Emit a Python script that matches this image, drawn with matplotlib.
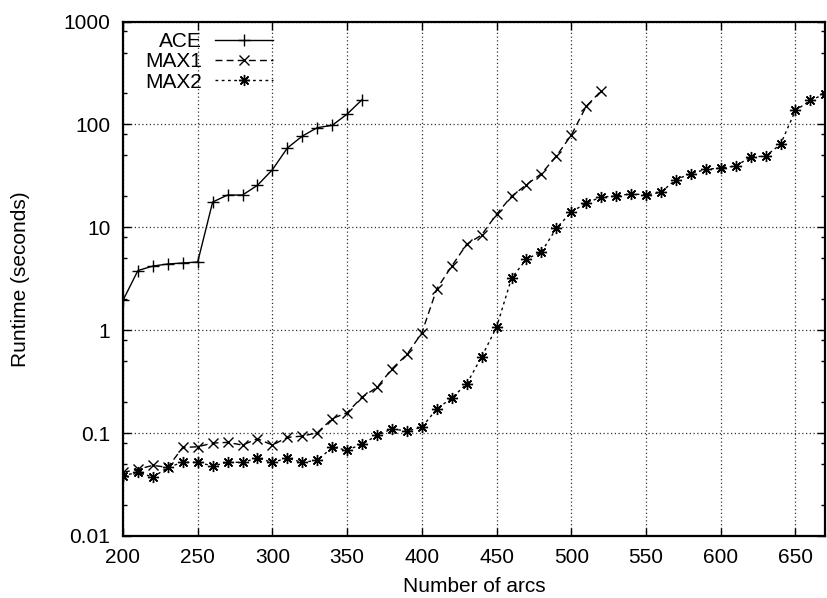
import matplotlib
matplotlib.use("Agg")
import matplotlib.pyplot as plt
from matplotlib.ticker import FixedLocator, NullFormatter

plt.rcParams['font.family'] = ['Liberation Sans', 'DejaVu Sans']
plt.rcParams['xtick.labelsize'] = 15
plt.rcParams['ytick.labelsize'] = 15

ace_x = [200, 210, 220, 230, 240, 250, 260, 270, 280, 290, 300, 310, 320, 330, 340, 350, 360]
ace_y = [1.95, 3.8, 4.2, 4.4, 4.5, 4.6, 17.6, 20.6, 20.6, 25.6, 36.3, 59, 77, 93, 98, 126, 174]

max1_x = list(range(200, 530, 10))
max1_y = [0.0415, 0.0445, 0.0486, 0.0464, 0.0726, 0.0736, 0.080, 0.0812, 0.0765, 0.0881,
          0.0765, 0.0908, 0.0935, 0.1007, 0.138, 0.158, 0.224, 0.278, 0.421, 0.581,
          0.942, 2.52, 4.2, 6.84, 8.42, 13.4, 20.0, 26.0, 33.2, 49.2,
          78.7, 150, 212]

max2_x = list(range(200, 680, 10))
max2_y = [0.0383, 0.0418, 0.0372, 0.0464, 0.052, 0.052, 0.0479, 0.052, 0.052, 0.0571,
          0.052, 0.0571, 0.052, 0.0543, 0.0726, 0.0684, 0.078, 0.095, 0.110, 0.1045,
          0.114, 0.172, 0.219, 0.301, 0.551, 1.07, 3.2, 4.92, 5.75, 9.77,
          14.1, 17.2, 19.7, 20.1, 21.2, 20.6, 21.9, 29.1, 33.2, 36.6,
          37.7, 39.4, 48.2, 49.2, 64, 137, 171, 199]

fig = plt.figure(figsize=(8.27, 5.98), dpi=100)
ax = fig.add_axes([0.1487, 0.1037, 0.8493, 0.8603])

ax.plot(ace_x, ace_y, color="black", lw=1.0, marker="+", ms=9, mew=1.0, label="ACE")
ax.plot(max1_x, max1_y, color="black", lw=1.0, ls=(0, (5, 3)), marker="x", ms=7, mew=1.0,
        label="MAX1")
ax.plot(max2_x, max2_y, color="black", lw=1.0, ls=(0, (2, 2.5)), marker=(8, 2, 0), ms=8,
        mew=1.0, label="MAX2")

ax.set_yscale("log")
ax.set_xlim(200, 670)
ax.set_ylim(0.01, 1000)

ax.set_xticks(range(200, 670, 50))
ax.set_yticks([0.01, 0.1, 1, 10, 100, 1000])
ax.set_yticklabels(["0.01", "0.1", "1", "10", "100", "1000"])
ax.yaxis.set_minor_locator(FixedLocator([m * 10.0 ** e for e in range(-2, 3) for m in (2, 5, 8)]))
ax.yaxis.set_minor_formatter(NullFormatter())

ax.tick_params(which="both", direction="in", top=True, right=True, width=1.0)
ax.tick_params(axis="y", pad=9)
ax.tick_params(axis="x", pad=9)
ax.tick_params(which="major", length=6)
ax.tick_params(which="minor", length=3)

ax.grid(True, which="major", color="#333333", ls=(0, (1, 2)), lw=0.9)
for s in ax.spines.values():
    s.set_linewidth(1.6)

ax.set_xlabel("Number of arcs", fontsize=15, labelpad=7)
ax.set_ylabel("Runtime (seconds)", fontsize=15, labelpad=24)

ax.legend(loc="upper left", frameon=False, markerfirst=False, fontsize=15,
          handlelength=2.8, handletextpad=0.6, labelspacing=0.05,
          borderaxespad=0.0, bbox_to_anchor=(0.02, 0.995))

fig.savefig("out.png", dpi=100)
